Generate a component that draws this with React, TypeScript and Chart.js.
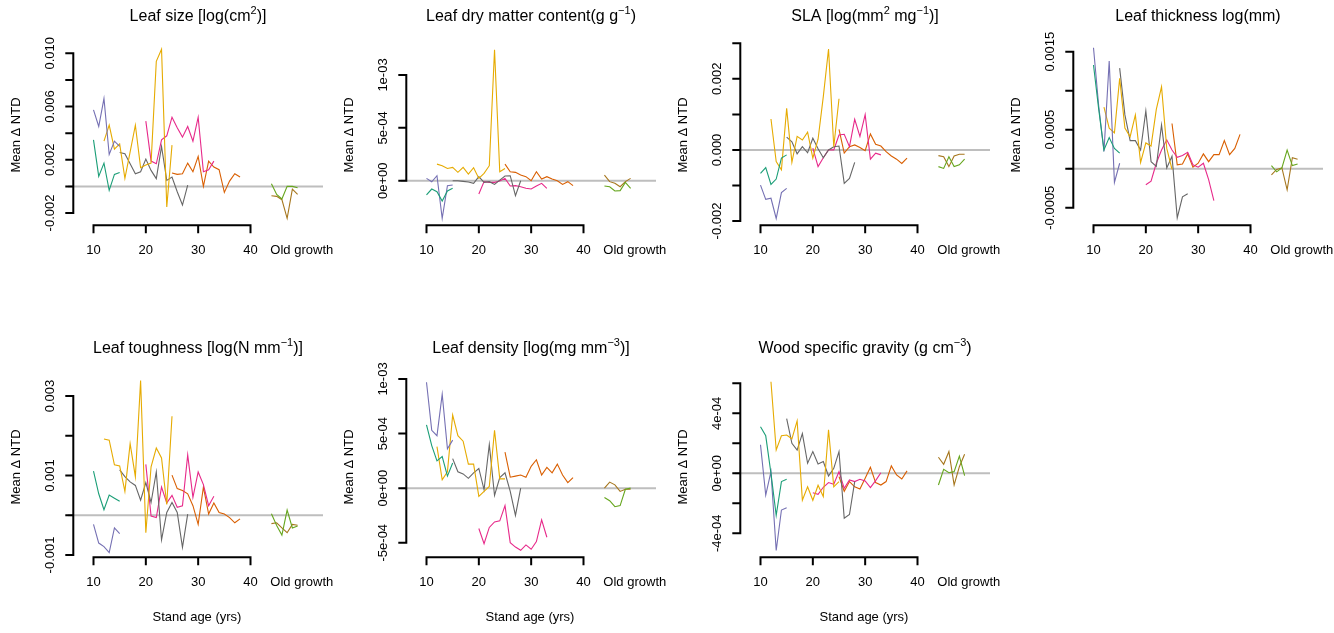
import React, { useEffect, useRef } from "react";
import { Chart, registerables } from "chart.js";
Chart.register(...registerables);

// ---------- x categories (stand age, yrs) ----------
const ageEarly = [10, 11, 12, 13, 14, 15];
const ageYellow = [12, 13, 14, 15, 16, 17, 18, 19, 20, 21, 22, 23, 24, 25];
const ageGray = [15, 16, 17, 18, 19, 20, 21, 22, 23, 24, 25, 26, 27, 28];
const agePink = [20, 21, 22, 23, 24, 25, 26, 27, 28, 29, 30, 31, 32, 33];
const ageOrange = [25, 26, 27, 28, 29, 30, 31, 32, 33, 34, 35, 36, 37, 38];
const ageOld = [44, 45, 46, 47, 48, 49];
const xTicks = [10, 20, 30, 40];
const xTickLabels = ["10", "20", "30", "40"];
const oldGrowthLabel = "Old growth";
const oldGrowthAt = 49.8;

// ---------- Leaf size ----------
const sizeGreen = [0.0035, 0.00075, 0.00175, -0.0003, 0.0009, 0.00105];
const sizePurple = [0.00575, 0.0045, 0.0066, 0.0024, 0.0034, 0.003];
const sizeYellow = [0.0034, 0.0046, 0.0028, 0.0032, 0.0006, 0.0026, 0.0046, 0.0014, 0.0016, 0.00175, 0.0094, 0.0103, -0.00155, 0.0031];
const sizeGray = [0.00255, 0.00245, 0.0017, 0.00095, 0.0011, 0.00205, 0.0012, 0.00058, 0.003, 0.00045, 0.0007, -0.0004, -0.0014, 0.0001];
const sizePink = [0.0049, 0.0019, 0.0017, 0.0035, 0.0038, 0.0052, 0.0044, 0.0037, 0.0045, 0.0034, 0.0052, 0.0011, 0.00125, 0.0019];
const sizeOrange = [0.001, 0.0009, 0.00095, 0.00175, 0.0011, 0.00225, 0.0, 0.0019, 0.00145, 0.00125, -0.00045, 0.0004, 0.00095, 0.0007];
const sizeOldGreen = [0.0002, -0.0006, -0.00095, 0, 0, -0.0001];
const sizeOldBrown = [-0.0007, -0.00075, -0.001, -0.0024, -0.0002, -0.0006];
const sizeTicks = [-0.002, 0, 0.002, 0.004, 0.006, 0.008, 0.01];
const sizeTickLabels = ["-0.002", "", "0.002", "", "0.006", "", "0.010"];

// ---------- Leaf dry matter content ----------
const ldmcGreen = [-1.35e-4, -7.9e-5, -1.04e-4, -1.92e-4, -9.7e-5, -7.2e-5];
const ldmcPurple = [2.2e-5, -1e-5, 4.7e-5, -3.55e-4, -4.7e-5, -4.1e-5];
const ldmcYellow = [1.57e-4, 1.42e-4, 1.16e-4, 1.26e-4, 7.9e-5, 1.26e-4, 6.3e-5, 1.23e-4, 2.2e-5, 6.9e-5, 1.42e-4, 1.239e-3, 8.5e-5, 1.16e-4];
const ldmcGray = [0, 0, -6e-6, -1.3e-5, -2.5e-5, 3.8e-5, -1.6e-5, -9e-6, -3.5e-5, 6e-6, 4.4e-5, 4.7e-5, -1.42e-4, 0];
const ldmcPink = [-1.26e-4, -9e-6, -1.6e-5, -1.6e-5, -3e-6, 2.2e-5, -5e-5, -4.7e-5, -5.7e-5, -7.2e-5, -7.9e-5, -5e-5, -2.5e-5, -7.2e-5];
const ldmcOrange = [1.57e-4, 8.5e-5, 7.9e-5, 5.3e-5, 3.8e-5, 0, 8.5e-5, 1.6e-5, 3.8e-5, 1.6e-5, 0, -3.5e-5, -9e-6, -4.7e-5];
const ldmcOldGreen = [-5e-5, -5.7e-5, -9.7e-5, -9.4e-5, -1.6e-5, -7.2e-5];
const ldmcOldBrown = [5.3e-5, -9e-6, -2.5e-5, -5.7e-5, -9e-6, 2.2e-5];
const ldmcTicks = [0, 5e-4, 1e-3];
const ldmcTickLabels = ["0e+00", "5e-04", "1e-03"];

// ---------- SLA ----------
const slaGreen = [-6.6e-4, -5e-4, -9.7e-4, -8.2e-4, -2.3e-4, -1.4e-4];
const slaPurple = [-9.9e-4, -1.39e-3, -1.36e-3, -1.93e-3, -1.2e-3, -1.08e-3];
const slaYellow = [8.7e-4, -3.3e-4, -5.6e-4, 1.17e-3, -3.5e-4, 3.8e-4, 2.8e-4, 5e-4, -2.3e-4, 3e-4, 1.5e-3, 2.84e-3, 9e-5, 1.44e-3];
const slaGray = [3.6e-4, 2.3e-4, -1.1e-4, 9e-5, -8e-5, 3.3e-4, 3e-5, -2.2e-4, 0, 9e-5, 1.1e-4, -9.4e-4, -8e-4, -3.5e-4];
const slaPink = [5e-5, -4.7e-4, -2.2e-4, 0, 0, 4.2e-4, 4.4e-4, 9e-5, 8.6e-4, 3.8e-4, 9.9e-4, -2.6e-4, -9e-5, -1.4e-4];
const slaOrange = [5.8e-4, -9e-5, 9e-5, 1.4e-4, 7e-5, -2e-5, 4.5e-4, 1.6e-4, 1.1e-4, -5e-5, -1.7e-4, -2.6e-4, -3.8e-4, -2.3e-4];
const slaOldGreen = [-4.7e-4, -5.2e-4, -1.9e-4, -4.7e-4, -4.2e-4, -2.6e-4];
const slaOldBrown = [-1.6e-4, -1.9e-4, -4.7e-4, -1.7e-4, -1.2e-4, -1.2e-4];
const slaTicks = [-0.002, -0.001, 0, 0.001, 0.002, 0.003];
const slaTickLabels = ["-0.002", "", "0.000", "", "0.002", ""];

// ---------- Leaf thickness ----------
const thickGreen = [1.33e-3, 7.6e-4, 2.4e-4, 4e-4, 2.6e-4, 2e-4];
const thickPurple = [1.55e-3, 8e-4, 2.2e-4, 1.38e-3, -1.75e-4, 7e-5];
const thickYellow = [7.9e-4, 5.2e-4, 4.6e-4, 1.16e-3, 5.2e-4, 4.1e-4, 6.9e-4, 8e-5, 3.3e-4, 2.9e-4, 7.6e-4, 1.05e-3, 2.6e-4, -1e-5];
const thickGray = [1.29e-3, 6.9e-4, 3.6e-4, 3.6e-4, 2.4e-4, 7.4e-4, 9e-5, 3e-5, 5.6e-4, 1e-5, 1.6e-4, -6.3e-4, -3.6e-4, -3.2e-4];
const thickPink = [-2.05e-4, -1.6e-4, 7e-5, 2.4e-4, 3.7e-4, 2.4e-4, 1.45e-4, 1.7e-4, 2.1e-4, 5e-5, 2e-5, 7e-5, -1.4e-4, -4.1e-4];
const thickOrange = [5.8e-4, 5e-5, 6e-5, 1.9e-4, 2e-5, 7e-5, 1.9e-4, 9e-5, 1.8e-4, 1.8e-4, 3.6e-4, 1.8e-4, 2.6e-4, 4.4e-4];
const thickOldGreen = [4e-5, -4e-5, 1e-5, 2.4e-4, 4e-5, 6e-5];
const thickOldBrown = [-8e-5, -1e-5, 1e-5, -2.7e-4, 1.4e-4, 1.2e-4];
const thickTicks = [-0.0005, 0, 0.0005, 0.001, 0.0015];
const thickTickLabels = ["-0.0005", "", "0.0005", "", "0.0015"];

// ---------- Leaf toughness ----------
const toughGreen = [1.11e-3, 5.4e-4, 1.4e-4, 5.1e-4, 4.3e-4, 3.5e-4];
const toughPurple = [-2.3e-4, -7e-4, -7.9e-4, -9.4e-4, -3.2e-4, -4.6e-4];
const toughYellow = [1.92e-3, 1.89e-3, 1.27e-3, 1.24e-3, 6e-4, 1.8e-3, 9.7e-4, 3.39e-3, -4.4e-4, 1.22e-3, 1.69e-3, 1.44e-3, 2.7e-4, 2.49e-3];
const toughGray = [1.14e-3, 9.7e-4, 8.4e-4, 7.5e-4, 3.8e-4, 8.2e-4, 3.2e-4, 1.09e-3, -6.2e-4, 7e-5, 3.2e-4, 7e-5, -8.1e-4, 3e-5];
const toughPink = [1.28e-3, -2e-5, -6e-5, 7.1e-4, 3.1e-4, 5e-4, 2e-4, 2.4e-4, 1.52e-3, 4.5e-4, 1.09e-3, 7.7e-4, 2.4e-4, 4.8e-4];
const toughOrange = [1.01e-3, 6.7e-4, 6.2e-4, 5.4e-4, 2.4e-4, -2.3e-4, 7.1e-4, 3e-5, 3.1e-4, 7e-5, 3e-5, -6e-5, -1.9e-4, -9e-5];
const toughOldGreen = [4e-5, -2.6e-4, -5e-4, 1.3e-4, -3.2e-4, -2.7e-4];
const toughOldBrown = [-2.1e-4, -1.9e-4, -3.2e-4, -4.4e-4, -2.3e-4, -2.5e-4];
const toughTicks = [-0.001, 0, 0.001, 0.002, 0.003];
const toughTickLabels = ["-0.001", "", "0.001", "", "0.003"];

// ---------- Leaf density ----------
const densGreen = [5.8e-4, 3.9e-4, 2.5e-4, 2.9e-4, 1.1e-4, 2.3e-4];
const densPurple = [9.7e-4, 5.3e-4, 4.8e-4, 8.6e-4, 3.6e-4, 4.4e-4];
const densYellow = [3.8e-4, 7.6e-5, 1.5e-4, 6.7e-4, 4.8e-4, 4.3e-4, 2.2e-4, 2.2e-4, -7.6e-5, -3e-5, 1.5e-5, 5.3e-4, 8.5e-5, 8.5e-5];
const densGray = [2.7e-4, 1.5e-4, 1.3e-4, 9e-5, 1.4e-4, 1.8e-4, -1.5e-5, 4e-4, -6.7e-5, 9.7e-5, 1.4e-4, -3e-5, -2.5e-4, 0];
const densPink = [-3.7e-4, -5.1e-4, -3.6e-4, -3.1e-4, -3e-4, -1.6e-4, -5e-4, -5.4e-4, -5.7e-4, -5.2e-4, -5.6e-4, -4.9e-4, -2.9e-4, -4.5e-4];
const densOrange = [3.3e-4, 1e-4, 1.1e-4, 1.2e-4, 1e-4, 2e-4, 2.6e-4, 1.2e-4, 1.9e-4, 1.4e-4, 2.2e-4, 1.2e-4, 5e-5, 9.7e-5];
const densOldGreen = [-8.5e-5, -1.15e-4, -1.7e-4, -1.6e-4, -1e-5, 0];
const densOldBrown = [0, 5.5e-5, 3e-5, -3e-5, -1e-5, -1e-5];
const densTicks = [-5e-4, 0, 5e-4, 1e-3];
const densTickLabels = ["-5e-04", "0e+00", "5e-04", "1e-03"];

// ---------- Wood specific gravity ----------
const woodGreen = [3.1e-4, 2.5e-4, 0, -2.8e-4, -5.5e-5, -4e-5];
const woodPurple = [1.9e-4, -1.45e-4, 1.1e-5, -5.15e-4, -2.45e-4, -2.3e-4];
const woodYellow = [6.1e-4, 1.55e-4, 2.5e-4, 2.55e-4, 2.3e-4, 3.5e-4, -1.8e-4, -9e-5, -1.8e-4, -8e-5, -1.55e-4, 2.9e-4, -9e-5, -5.5e-5];
const woodGray = [3.65e-4, 2e-4, 1.55e-4, 2.65e-4, 6.7e-5, 1.45e-4, 6.2e-5, 7.8e-5, -1.8e-5, 3.3e-5, 1.45e-4, -3e-4, -2.75e-4, -5.5e-5];
const woodPink = [-1.3e-4, -1.4e-4, -9.3e-5, -6.2e-5, -7.3e-5, 1.1e-5, -1e-4, -4.4e-5, -5.5e-5, -4e-5, -5.1e-5, -9.5e-5, -4.9e-5, 4e-6];
const woodOrange = [-2.2e-5, -1.2e-4, -5.5e-5, -9e-5, -1.05e-4, -3.3e-5, 4e-5, -6.2e-5, -7.8e-5, -5.5e-5, 4.9e-5, -1.1e-5, -3.8e-5, 1.6e-5];
const woodOldGreen = [-7.8e-5, 2.7e-5, 4e-6, 1.1e-5, 1.15e-4, -1.6e-5];
const woodOldBrown = [1.07e-4, 6e-5, 1.45e-4, -7.8e-5, 4.4e-5, 1.27e-4];
const woodTicks = [-4e-4, -2e-4, 0, 2e-4, 4e-4, 6e-4];
const woodTickLabels = ["-4e-04", "", "0e+00", "", "4e-04", ""];

// ---------- titles (text, superscript?) ----------
type Piece = [string, boolean];
const sizeTitle: Piece[] = [["Leaf size [log(cm", false], ["2", true], [")]", false]];
const ldmcTitle: Piece[] = [["Leaf dry matter content(g g", false], ["\u22121", true], [")", false]];
const slaTitle: Piece[] = [["SLA [log(mm", false], ["2", true], [" mg", false], ["\u22121", true], [")]", false]];
const thickTitle: Piece[] = [["Leaf thickness log(mm)", false]];
const toughTitle: Piece[] = [["Leaf toughness [log(N mm", false], ["\u22121", true], [")]", false]];
const densTitle: Piece[] = [["Leaf density [log(mg mm", false], ["\u22123", true], [")]", false]];
const woodTitle: Piece[] = [["Wood specific gravity (g cm", false], ["\u22123", true], [")", false]];
const yAxisTitle = "Mean \u0394 NTD";
const xAxisTitle = "Stand age (yrs)";

// ---------- series styling ----------
const seriesX = [ageEarly, ageEarly, ageYellow, ageGray, agePink, ageOrange, ageOld, ageOld];
const seriesColors = ["#1B9E77", "#7570B3", "#E6AB02", "#666666", "#E7298A", "#D95F02", "#66A61E", "#A6761D"];

type Panel = {
  title: Piece[];
  ticks: number[];
  labels: string[];
  cal: [number, number, number, number]; // value, pixel, value, pixel (relative to panel)
  series: number[][];
  row: number;
  col: number;
};

const panels: Panel[] = [
  { title: sizeTitle, ticks: sizeTicks, labels: sizeTickLabels, cal: [0.01, 53.3, -0.002, 213], row: 0, col: 0,
    series: [sizeGreen, sizePurple, sizeYellow, sizeGray, sizePink, sizeOrange, sizeOldGreen, sizeOldBrown] },
  { title: ldmcTitle, ticks: ldmcTicks, labels: ldmcTickLabels, cal: [1e-3, 75, 0, 180.7], row: 0, col: 1,
    series: [ldmcGreen, ldmcPurple, ldmcYellow, ldmcGray, ldmcPink, ldmcOrange, ldmcOldGreen, ldmcOldBrown] },
  { title: slaTitle, ticks: slaTicks, labels: slaTickLabels, cal: [0.003, 43.3, -0.002, 221], row: 0, col: 2,
    series: [slaGreen, slaPurple, slaYellow, slaGray, slaPink, slaOrange, slaOldGreen, slaOldBrown] },
  { title: thickTitle, ticks: thickTicks, labels: thickTickLabels, cal: [0.0015, 51.7, -0.0005, 207.7], row: 0, col: 3,
    series: [thickGreen, thickPurple, thickYellow, thickGray, thickPink, thickOrange, thickOldGreen, thickOldBrown] },
  { title: toughTitle, ticks: toughTicks, labels: toughTickLabels, cal: [0.003, 64, -0.001, 223], row: 1, col: 0,
    series: [toughGreen, toughPurple, toughYellow, toughGray, toughPink, toughOrange, toughOldGreen, toughOldBrown] },
  { title: densTitle, ticks: densTicks, labels: densTickLabels, cal: [1e-3, 47, -5e-4, 210.7], row: 1, col: 1,
    series: [densGreen, densPurple, densYellow, densGray, densPink, densOrange, densOldGreen, densOldBrown] },
  { title: woodTitle, ticks: woodTicks, labels: woodTickLabels, cal: [6e-4, 51.3, -4e-4, 201.3], row: 1, col: 2,
    series: [woodGreen, woodPurple, woodYellow, woodGray, woodPink, woodOrange, woodOldGreen, woodOldBrown] },
];

// ---------- layout (pixels) ----------
const colLeft = [0, 333, 667, 1000];
const colWidth = [333, 334, 333, 334];
const rowTop = [0, 332];
const rowHeight = [332, 301];
const AREA_L = 68, AREA_R = 323, AREA_T = 30, AREA_B = 240;
const X10_PX = 93.5, X40_PX = 250.5;
const Y_AXIS_X = 73.3, X_AXIS_Y = 225.3, TICK_LEN = 7;
const CENTER_X = 198;
const FONT = '"Liberation Sans", Arial, Helvetica, sans-serif';

function makePlugin(p: Panel) {
  return {
    id: "rStyle",
    beforeDatasetsDraw(chart: any) {
      const { ctx, chartArea, scales } = chart;
      const y0 = scales.y.getPixelForValue(0);
      ctx.save();
      ctx.strokeStyle = "#BEBEBE";
      ctx.lineWidth = 2;
      ctx.beginPath();
      ctx.moveTo(chartArea.left, y0);
      ctx.lineTo(chartArea.right, y0);
      ctx.stroke();
      ctx.restore();
    },
    afterDraw(chart: any) {
      const { ctx, scales } = chart;
      const xs = scales.x, ys = scales.y;
      ctx.save();
      ctx.strokeStyle = "#000";
      ctx.lineWidth = 2;
      ctx.lineCap = "square";
      // y axis
      const yTop = ys.getPixelForValue(p.ticks[p.ticks.length - 1]);
      const yBot = ys.getPixelForValue(p.ticks[0]);
      ctx.beginPath();
      ctx.moveTo(Y_AXIS_X, yTop);
      ctx.lineTo(Y_AXIS_X, yBot);
      p.ticks.forEach((v) => {
        const py = ys.getPixelForValue(v);
        ctx.moveTo(Y_AXIS_X, py);
        ctx.lineTo(Y_AXIS_X - TICK_LEN, py);
      });
      // x axis
      const xa = xs.getPixelForValue(xTicks[0]);
      const xb = xs.getPixelForValue(xTicks[xTicks.length - 1]);
      ctx.moveTo(xa, X_AXIS_Y);
      ctx.lineTo(xb, X_AXIS_Y);
      xTicks.forEach((v) => {
        const px = xs.getPixelForValue(v);
        ctx.moveTo(px, X_AXIS_Y);
        ctx.lineTo(px, X_AXIS_Y + TICK_LEN);
      });
      ctx.stroke();

      ctx.fillStyle = "#000";
      ctx.font = `13px ${FONT}`;
      ctx.textAlign = "center";
      ctx.textBaseline = "middle";
      // x tick labels
      xTicks.forEach((v, i) => {
        ctx.fillText(xTickLabels[i], xs.getPixelForValue(v), X_AXIS_Y + 25.5);
      });
      ctx.fillText(oldGrowthLabel, xs.getPixelForValue(oldGrowthAt), X_AXIS_Y + 25.5);
      // y tick labels (rotated)
      p.ticks.forEach((v, i) => {
        const lab = p.labels[i];
        if (!lab) return;
        const py = ys.getPixelForValue(v);
        ctx.save();
        ctx.translate(50, py);
        ctx.rotate(-Math.PI / 2);
        ctx.fillText(lab, 0, 0);
        ctx.restore();
      });
      // y axis title
      ctx.save();
      ctx.translate(16, 135);
      ctx.rotate(-Math.PI / 2);
      ctx.fillText(yAxisTitle, 0, 0);
      ctx.restore();
      // x axis title (bottom row)
      if (p.row === 1) {
        ctx.fillText(xAxisTitle, CENTER_X - 1, 285);
      }
      // main title with superscripts
      const mainFont = `16px ${FONT}`;
      const supFont = `11px ${FONT}`;
      let total = 0;
      p.title.forEach(([t, sup]) => {
        ctx.font = sup ? supFont : mainFont;
        total += ctx.measureText(t).width;
      });
      let cx = CENTER_X - total / 2;
      ctx.textAlign = "left";
      ctx.textBaseline = "alphabetic";
      p.title.forEach(([t, sup]) => {
        ctx.font = sup ? supFont : mainFont;
        ctx.fillText(t, cx, sup ? 14 : 21);
        cx += ctx.measureText(t).width;
      });
      ctx.restore();
    },
  };
}

export default function App() {
  const refs = useRef<(HTMLCanvasElement | null)[]>([]);

  useEffect(() => {
    const charts = panels.map((p, i) => {
      const canvas = refs.current[i] as HTMLCanvasElement;
      const W = colWidth[p.col];
      const H = rowHeight[p.row];
      const xPer = (xTicks[3] - xTicks[0]) / (X40_PX - X10_PX);
      const xMin = xTicks[0] - (X10_PX - AREA_L) * xPer;
      const xMax = xTicks[3] + (AREA_R - X40_PX) * xPer;
      const [v1, p1, v2, p2] = p.cal;
      const yPer = (v1 - v2) / (p2 - p1);
      const yMax = v1 + (p1 - AREA_T) * yPer;
      const yMin = v2 - (AREA_B - p2) * yPer;
      const datasets = p.series.map((vals, k) => ({
        data: seriesX[k].map((x, j) => ({ x, y: vals[j] })),
        borderColor: seriesColors[k],
        backgroundColor: seriesColors[k],
        borderWidth: 1.1,
        pointRadius: 0,
        fill: false,
        tension: 0,
        clip: false as any,
      }));
      return new Chart(canvas, {
        type: "line",
        data: { datasets },
        options: {
          responsive: false,
          maintainAspectRatio: false,
          animation: false,
          events: [],
          layout: { padding: { left: AREA_L, right: W - AREA_R, top: AREA_T, bottom: H - AREA_B } },
          plugins: { legend: { display: false }, tooltip: { enabled: false }, title: { display: false } },
          scales: {
            x: { type: "linear", display: false, min: xMin, max: xMax },
            y: { type: "linear", display: false, min: yMin, max: yMax },
          },
        },
        plugins: [makePlugin(p)],
      });
    });
    return () => charts.forEach((c) => c.destroy());
  }, []);

  return (
    <div style={{ position: "absolute", left: 0, top: 0, width: 1334, height: 633, background: "#fff", overflow: "hidden" }}>
      {panels.map((p, i) => (
        <canvas
          key={i}
          ref={(el) => {
            refs.current[i] = el;
          }}
          width={colWidth[p.col]}
          height={rowHeight[p.row]}
          style={{ position: "absolute", left: colLeft[p.col], top: rowTop[p.row], width: colWidth[p.col], height: rowHeight[p.row] }}
        />
      ))}
    </div>
  );
}
